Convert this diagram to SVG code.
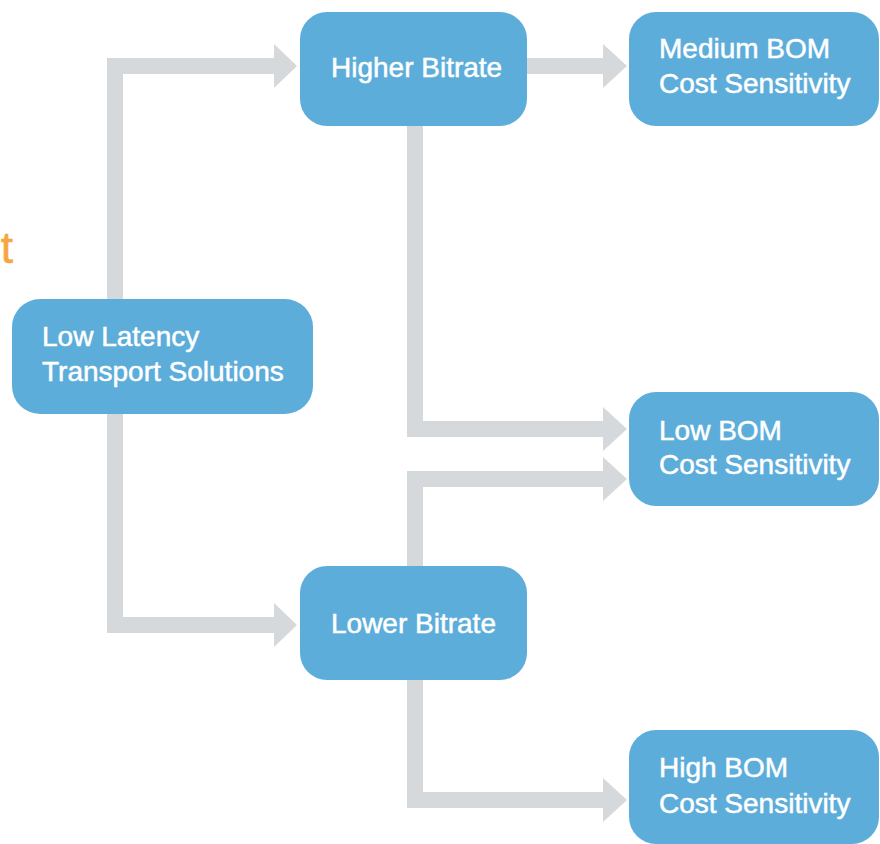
<svg xmlns="http://www.w3.org/2000/svg" width="880" height="844" viewBox="0 0 880 844">
<style>
.node rect{fill:#5DADDB}
.node text{fill:#FFFFFF;stroke:#FFFFFF;stroke-width:0.5;font-family:"Liberation Sans",Arial,sans-serif;font-size:28px}
.bar{fill:none;stroke:#D6D9DC;stroke-width:16;stroke-linejoin:miter;stroke-linecap:butt}
.head{fill:#D6D9DC}
.orange{fill:#F5A640;stroke:#F5A640;stroke-width:0.6;font-family:"Liberation Sans",Arial,sans-serif;font-size:44px}
</style>
<rect width="880" height="844" fill="#FFFFFF"/>
<text class="orange" x="13" y="263" text-anchor="end">t</text>
<g id="connectors">
<path class="bar" d="M115,300 V66 H275"/>
<polygon class="head" points="274,44 297,66 274,88"/>
<path class="bar" d="M115,413 V625 H275"/>
<polygon class="head" points="274,603 297,625 274,647"/>
<path class="bar" d="M526,66 H604"/>
<polygon class="head" points="603,44 627,66 603,88"/>
<path class="bar" d="M415,125 V429 H604"/>
<polygon class="head" points="603,407 627,429 603,451"/>
<path class="bar" d="M415,567 V479 H604"/>
<polygon class="head" points="603,457 627,479 603,501"/>
<path class="bar" d="M415,679 V800 H604"/>
<polygon class="head" points="603,778 627,800 603,822"/>
</g>
<g id="node-higher-bitrate" class="node">
<rect x="300" y="12" width="227" height="114" rx="27"/>
<text x="331" y="77">Higher Bitrate</text>
</g>
<g id="node-medium-bom" class="node">
<rect x="629" y="12" width="250" height="114" rx="27"/>
<text x="659" y="58">Medium BOM</text>
<text x="659" y="93">Cost Sensitivity</text>
</g>
<g id="node-low-latency" class="node">
<rect x="12" y="299" width="301" height="115" rx="28"/>
<text x="42" y="346">Low Latency</text>
<text x="42" y="381">Transport Solutions</text>
</g>
<g id="node-low-bom" class="node">
<rect x="629" y="392" width="250" height="114" rx="27"/>
<text x="659" y="440">Low BOM</text>
<text x="659" y="474">Cost Sensitivity</text>
</g>
<g id="node-lower-bitrate" class="node">
<rect x="300" y="566" width="227" height="114" rx="27"/>
<text x="331" y="633">Lower Bitrate</text>
</g>
<g id="node-high-bom" class="node">
<rect x="629" y="730" width="250" height="114" rx="27"/>
<text x="659" y="777">High BOM</text>
<text x="659" y="813">Cost Sensitivity</text>
</g>
</svg>
